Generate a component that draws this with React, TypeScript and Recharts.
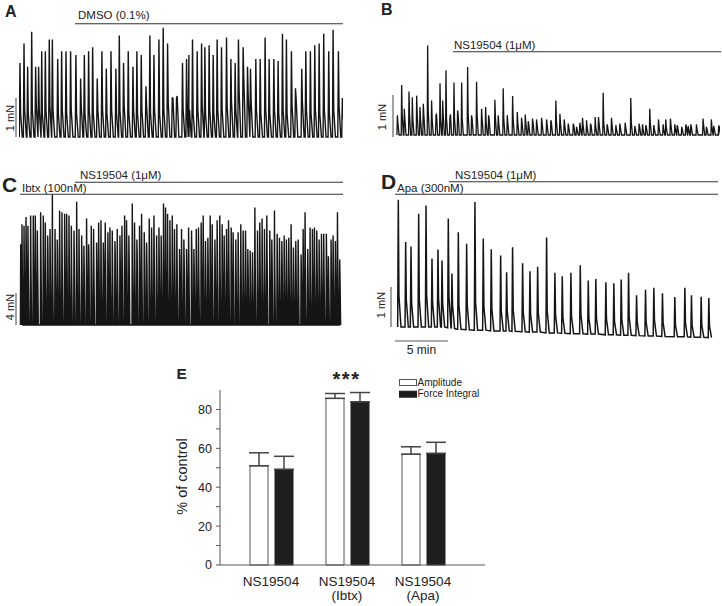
import React from 'react';
import { LineChart, Line, XAxis, YAxis, BarChart, Bar, ErrorBar, Legend } from 'recharts';

const FONT = '"Liberation Sans", Arial, Helvetica, sans-serif';
const INK = '#222';

// A – DMSO (0.1%): spike time (min), peak force (mN), inter-spike band (mN)
const aTimes = [
  0.09, 0.47, 0.81, 1.19, 1.56, 1.84, 2.13, 2.47, 2.84, 3.13,
  3.63, 4.0, 4.41, 4.84, 5.34, 5.78, 6.13, 6.53, 6.91, 7.34,
  7.78, 8.19, 8.63, 9.09, 9.41, 9.81, 10.25, 10.69, 11.06, 11.47,
  11.91, 12.28, 12.66, 13.13, 13.53, 13.94, 14.38, 14.78, 15.34, 15.72,
  15.94, 16.28, 16.72, 17.13, 17.44, 17.84, 18.22, 18.59, 19.0, 19.47,
  19.88, 20.28, 20.59, 21.03, 21.44, 21.72, 22.22, 22.63, 23.09, 23.47,
  23.91, 24.31, 24.72, 25.09, 25.56, 25.94, 26.53, 26.91, 27.34, 27.75,
  28.16, 28.59, 29.06, 29.47, 29.97, 30.34,
];
const aPeaks = [
  1.9, 2.4, 1.8, 2.7, 1.8, 1.8, 2.2, 2.2, 2.5, 2.5,
  2.0, 2.2, 2.2, 2.2, 2.1, 1.5, 2.1, 2.2, 2.3, 1.5,
  2.2, 1.75, 2.2, 1.75, 2.6, 1.9, 2.2, 1.8, 2.2, 2.1,
  1.3, 2.6, 2.1, 2.5, 2.8, 2.4, 1.0, 1.0, 1.9, 2.0,
  2.1, 2.5, 2.2, 2.4, 2.3, 2.35, 2.1, 2.5, 2.3, 2.55,
  2.0, 1.9, 2.5, 2.3, 1.8, 1.75, 2.0, 2.0, 2.55, 2.0,
  2.0, 1.95, 2.65, 2.5, 2.2, 1.25, 1.75, 2.2, 2.2, 2.35,
  2.4, 2.65, 2.2, 2.75, 2.2, 1.0,
];
const aBand = [
  0.6, 0.7, 0.6, 0.7, 0.8, 0.7, 0.6, 0.7, 0.8, 0.7,
  0.6, 0.7, 0.6, 0.7, 0.6, 0.8, 0.6, 0.7, 0.6, 0.7,
  0.7, 0.6, 0.7, 0.6, 0.7, 0.8, 0.6, 0.7, 0.6, 0.7,
  0.8, 0.6, 0.7, 0.6, 0.7, 0.9, 1.0, 1.05, 0.7, 0.6,
  0.7, 0.6, 0.7, 0.8, 0.6, 0.7, 0.6, 0.7, 0.7, 0.8,
  0.9, 0.7, 1.2, 1.5, 1.1, 0.9, 0.7, 0.6, 0.7, 0.6,
  0.7, 0.6, 0.7, 0.6, 0.8, 1.0, 0.9, 0.7, 0.6, 0.7,
  0.6, 0.7, 0.6, 0.7, 0.8, 0.7,
];

// B – NS19504 (1 µM)
const bTimes = [
  0.13, 0.53, 0.78, 1.22, 1.53, 1.94, 2.25, 2.56, 2.97, 3.34,
  3.75, 4.13, 4.38, 4.69, 5.06, 5.44, 5.78, 6.16, 6.72, 7.09,
  7.56, 8.03, 8.41, 8.69, 9.28, 9.59, 10.06, 10.44, 10.94, 11.38,
  11.78, 12.13, 12.41, 12.81, 13.19, 13.66, 14.13, 14.53, 15.0, 15.38,
  15.78, 16.16, 16.63, 16.94, 17.25, 17.5, 17.88, 18.25, 18.69, 19.0,
  19.44, 19.81, 20.22, 20.63, 21.0, 21.5, 22.03, 22.41, 22.81, 23.13,
  23.44, 23.81, 24.19, 24.63, 25.06, 25.31, 25.75, 26.16, 26.38, 26.81,
  27.19, 27.41, 27.66, 28.19, 28.81, 29.13, 29.59, 29.81, 30.28,
];
const bPeaks = [
  0.48, 1.22, 0.64, 1.06, 0.92, 0.96, 0.68, 0.76, 2.18, 0.84,
  0.48, 1.26, 0.84, 1.58, 0.44, 1.28, 0.6, 1.28, 1.66, 0.48,
  1.3, 0.64, 0.68, 0.48, 0.86, 0.48, 1.14, 0.48, 0.95, 0.56,
  0.42, 0.5, 0.34, 0.4, 0.38, 0.42, 0.38, 0.36, 0.84, 0.52,
  0.38, 0.28, 0.26, 0.2, 0.3, 0.42, 0.36, 0.26, 0.44, 0.44,
  1.03, 0.26, 0.42, 0.24, 0.28, 0.3, 0.9, 0.22, 0.28, 0.26,
  0.24, 0.64, 0.24, 0.38, 0.26, 0.38, 0.4, 0.26, 0.24, 0.2,
  0.26, 0.22, 0.26, 0.26, 0.4, 0.2, 0.38, 0.22, 0.23,
];
const bBand = [
  0.3, 0.5, 0.4, 0.5, 0.4, 0.5, 0.4, 0.5, 0.6, 0.4,
  0.5, 0.4, 0.5, 0.4, 0.5, 0.4, 0.5, 0.4, 0.5, 0.4,
  0.5, 0.4, 0.3, 0.4, 0.4, 0.3, 0.4, 0.3, 0.4, 0.3,
  0.3, 0.3, 0.25, 0.3, 0.25, 0.3, 0.25, 0.3, 0.35, 0.3,
  0.25, 0.2, 0.25, 0.15, 0.2, 0.25, 0.2, 0.25, 0.2, 0.3,
  0.3, 0.2, 0.25, 0.15, 0.2, 0.2, 0.3, 0.15, 0.2, 0.15,
  0.2, 0.3, 0.15, 0.2, 0.15, 0.2, 0.25, 0.15, 0.2, 0.15,
  0.2, 0.15, 0.2, 0.15, 0.25, 0.15, 0.2, 0.15, 0.2,
];

// C – Ibtx (100 nM) then NS19504 (1 µM)
const cTimes = [
  0.16, 0.28, 0.47, 0.66, 0.84, 1.09, 1.34, 1.53, 1.72, 2.03,
  2.28, 2.47, 2.69, 2.91, 3.13, 3.38, 3.59, 3.81, 4.03, 4.28,
  4.47, 4.69, 4.91, 5.16, 5.41, 5.63, 5.88, 6.09, 6.34, 6.53,
  6.78, 7.0, 7.28, 7.47, 7.69, 7.91, 8.09, 8.34, 8.53, 8.75,
  9.0, 9.22, 9.47, 9.66, 9.91, 10.09, 10.31, 10.63, 10.84, 11.06,
  11.31, 11.5, 11.75, 11.97, 12.22, 12.44, 12.66, 12.91, 13.13, 13.34,
  13.56, 13.75, 13.94, 14.16, 14.38, 14.59, 14.81, 15.06, 15.25, 15.47,
  15.72, 15.91, 16.19, 16.41, 16.63, 16.84, 17.09, 17.28, 17.5, 17.72,
  17.94, 18.13, 18.38, 18.59, 18.84, 19.06, 19.25, 19.47, 19.66, 19.91,
  20.09, 20.34, 20.56, 20.81, 21.03, 21.25, 21.47, 21.69, 21.91, 22.13,
  22.38, 22.59, 22.81, 23.03, 23.25, 23.53, 23.72, 23.97, 24.22, 24.44,
  24.66, 24.88, 25.09, 25.31, 25.53, 25.75, 25.97, 26.19, 26.47, 26.66,
  26.84, 27.09, 27.31, 27.53, 27.72, 27.94, 28.16, 28.38, 28.59, 28.84,
  29.03, 29.28, 29.47, 29.69, 29.88, 30.09,
];
const cPeaks = [
  10.1, 12.6, 12.4, 13.5, 12.4, 13.7, 13.7, 13.7, 11.8, 14.1,
  13.7, 12.8, 11.2, 12.0, 16.3, 12.0, 10.7, 14.3, 14.1, 13.9,
  13.9, 13.7, 12.4, 11.8, 15.4, 12.0, 11.2, 9.9, 13.3, 10.1,
  12.4, 12.0, 10.3, 12.8, 13.1, 10.3, 12.8, 11.6, 12.2, 11.8,
  10.5, 12.0, 11.2, 12.4, 13.7, 13.1, 11.2, 15.2, 12.8, 10.7,
  12.4, 13.9, 11.6, 10.3, 13.3, 12.2, 13.7, 11.2, 12.2, 11.2,
  15.2, 14.7, 13.9, 13.1, 13.7, 12.0, 12.6, 9.5, 12.0, 10.7,
  9.5, 12.2, 11.8, 9.5, 12.0, 12.2, 12.8, 13.7, 10.5, 10.9,
  13.7, 12.6, 10.7, 13.1, 13.7, 12.6, 11.2, 12.0, 13.1, 12.2,
  11.6, 10.7, 11.6, 12.6, 11.8, 11.8, 9.5, 9.3, 9.1, 14.7,
  11.8, 12.8, 13.3, 12.0, 13.7, 11.8, 10.7, 14.3, 11.4, 10.9,
  10.5, 11.2, 10.7, 10.9, 12.6, 9.7, 10.5, 10.7, 8.8, 12.0,
  14.1, 9.5, 12.2, 12.0, 12.2, 11.8, 10.7, 11.4, 11.4, 11.4,
  8.6, 10.7, 11.2, 10.5, 14.1, 8.2,
];
const cBand = [
  9, 7, 8, 9, 7, 8, 9, 7, 8, 9,
  8, 7, 9, 8, 7, 8, 9, 8, 7, 8,
  9, 8, 7, 8, 9, 7, 8, 7, 8, 9,
  8, 7, 8, 9, 7, 8, 9, 8, 7, 8,
  9, 7, 8, 8, 7, 9, 8, 7, 8, 9,
  8, 7, 9, 8, 7, 8, 9, 7, 8, 8,
  9, 8, 7, 8, 9, 8, 7, 8, 7, 8,
  7, 8, 9, 7, 8, 7, 8, 9, 7, 8,
  8, 7, 8, 9, 7, 8, 7, 8, 9, 7,
  8, 7, 8, 7, 8, 9, 7, 7, 6, 8,
  7, 8, 7, 8, 9, 7, 8, 7, 8, 7,
  8, 7, 8, 7, 8, 7, 7, 8, 6, 7,
  8, 7, 6, 8, 7, 8, 7, 8, 7, 8,
  6, 7, 8, 7, 8, 6,
];

// D – Apa (300 nM) then NS19504 (1 µM); baseline drifts downwards
const dTimes = [
  0.31, 1.0, 1.5, 2.22, 2.91, 3.47, 4.03, 4.41, 5.0, 5.34,
  5.94, 6.72, 7.5, 8.28, 9.03, 9.91, 10.47, 11.03, 11.97, 12.66,
  13.38, 14.22, 15.0, 15.69, 16.5, 17.38, 18.13, 18.84, 19.78, 20.53,
  21.22, 21.91, 22.66, 23.5, 24.28, 25.09, 26.25, 27.19, 27.81, 28.72,
  29.44,
];
const dPeaks = [
  3.24, 2.16, 2.05, 2.88, 3.09, 1.74, 1.97, 1.69, 2.78, 1.4,
  2.47, 2.19, 3.26, 2.33, 2.08, 1.92, 1.49, 2.14, 1.74, 1.55,
  1.66, 2.43, 1.53, 1.45, 1.55, 1.74, 1.36, 1.4, 1.34, 1.31,
  1.42, 1.59, 1.03, 1.18, 1.23, 1.1, 1.01, 1.25, 1.07, 1.03,
  1.01,
];
const dBand = [
  0.8, 0.7, 0.6, 0.7, 0.8, 0.6, 0.7, 0.6, 0.8, 0.6,
  0.6, 0.6, 0.7, 0.6, 0.55, 0.5, 0.5, 0.55, 0.5, 0.45,
  0.5, 0.55, 0.45, 0.4, 0.45, 0.5, 0.4, 0.4, 0.4, 0.35,
  0.4, 0.45, 0.35, 0.35, 0.4, 0.35, 0.3, 0.35, 0.3, 0.3,
  0.3,
];
const dBase = [
  0, 0, 0, 0, 0, 0, 0, 0, -0.02, -0.04,
  -0.06, -0.07, -0.08, -0.08, -0.1, -0.1, -0.1, -0.11, -0.12, -0.13,
  -0.13, -0.15, -0.15, -0.16, -0.17, -0.17, -0.18, -0.18, -0.2, -0.2,
  -0.21, -0.21, -0.22, -0.23, -0.23, -0.24, -0.25, -0.25, -0.26, -0.26,
  -0.27,
];

// E – summary, % of control (mean, +SEM)
const conditions = ['NS19504', 'NS19504\n(Ibtx)', 'NS19504\n(Apa)'];
const amplitude = [51.0, 85.7, 57.0];
const amplitudeSem = [6.7, 2.5, 3.8];
const forceIntegral = [49.2, 83.9, 57.4];
const forceIntegralSem = [6.7, 4.8, 5.7];
const yTicks = [0, 10, 20, 30, 40, 50, 60, 70, 80];

type Shape = { rise: number; fall: number; tail: number };
type Box = { left: number; top: number; width: number; height: number; baseline: number; ppu: number; xMax: number; stroke: number };

// each contraction: baseline -> peak -> band level -> baseline
const buildTrace = (times: number[], peaks: number[], band: number[], shape: Shape, base?: number[]) => {
  const pts: { t: number; f: number }[] = [];
  times.forEach((t, i) => {
    const b = base ? base[i] : 0;
    pts.push({ t: t - shape.rise, f: b });
    pts.push({ t, f: b + peaks[i] });
    pts.push({ t: t + shape.fall, f: b + band[i] });
    pts.push({ t: t + shape.tail, f: b });
  });
  return pts.sort((p, q) => p.t - q.t);
};

const traceA = buildTrace(aTimes, aPeaks, aBand, { rise: 0.06, fall: 0.06, tail: 0.22 });
const traceB = buildTrace(bTimes, bPeaks, bBand, { rise: 0.04, fall: 0.05, tail: 0.16 });
const traceC = buildTrace(cTimes, cPeaks, cBand, { rise: 0.03, fall: 0.03, tail: 0.09 });
const traceD = buildTrace(dTimes, dPeaks, dBand, { rise: 0.06, fall: 0.06, tail: 0.25 }, dBase);

const boxA: Box = { left: 19, top: 25, width: 324, height: 120, baseline: 137, ppu: 39, xMax: 30.4, stroke: 1.4 };
const boxB: Box = { left: 396, top: 40, width: 324, height: 105, baseline: 135, ppu: 41, xMax: 30.4, stroke: 1.3 };
const boxC: Box = { left: 19, top: 192, width: 324, height: 140, baseline: 325, ppu: 8, xMax: 30.4, stroke: 1.4 };
const boxD: Box = { left: 395, top: 192, width: 323, height: 152, baseline: 327, ppu: 39.3, xMax: 30.3, stroke: 1.5 };

const Trace = ({ data, box }: { data: { t: number; f: number }[]; box: Box }) => {
  const yMin = -(box.top + box.height - box.baseline) / box.ppu;
  const yMax = (box.baseline - box.top) / box.ppu;
  return (
    <div style={{ position: 'absolute', left: box.left, top: box.top }}>
      <LineChart width={box.width} height={box.height} data={data} margin={{ top: 0, right: 0, bottom: 0, left: 0 }}>
        <XAxis dataKey="t" type="number" domain={[0, box.xMax]} hide allowDataOverflow />
        <YAxis type="number" domain={[yMin, yMax]} hide allowDataOverflow />
        <Line
          dataKey="f"
          type="linear"
          stroke="#151515"
          strokeWidth={box.stroke}
          strokeLinejoin="miter"
          dot={false}
          isAnimationActive={false}
        />
      </LineChart>
    </div>
  );
};

const barData = conditions.map((name, i) => ({
  name,
  amp: amplitude[i],
  ampErr: [0, amplitudeSem[i]],
  force: forceIntegral[i],
  forceErr: [0, forceIntegralSem[i]],
}));

const ConditionTick = (props: any) => {
  const { x, y, payload } = props;
  const lines = String(payload.value).split('\n');
  return (
    <text x={x} y={y} textAnchor="middle" fontSize={13.5} fill={INK} fontFamily={FONT}>
      {lines.map((l, i) => (
        <tspan key={i} x={x} dy={i === 0 ? 21 : 13.5}>{l}</tspan>
      ))}
    </text>
  );
};

const renderLegend = (props: any) => {
  const items = props.payload || [];
  return (
    <svg width={100} height={26} style={{ display: 'block' }}>
      {items.map((e: any, i: number) => (
        <g key={i}>
          <rect x={1.5} y={3.5 + i * 11.7} width={17} height={6} fill={e.color} stroke={e.color === '#ffffff' ? '#555' : e.color} />
          <text x={19.5} y={9.5 + i * 11.7} fontSize={10} fill={INK} fontFamily={FONT}>{e.value}</text>
        </g>
      ))}
    </svg>
  );
};

const txt = { fontFamily: FONT, fill: INK } as const;

const Overlay = () => (
  <svg width={722} height={606} style={{ position: 'absolute', left: 0, top: 0, pointerEvents: 'none' }}>
    {/* panel letters */}
    <text x={5} y={16.7} fontSize={16} fontWeight="bold" {...txt}>A</text>
    <text x={381} y={15} fontSize={16} fontWeight="bold" {...txt}>B</text>
    <text x={2} y={191.5} fontSize={21} fontWeight="bold" {...txt}>C</text>
    <text x={381} y={188.5} fontSize={21} fontWeight="bold" {...txt}>D</text>
    <text x={176.5} y={379.3} fontSize={15.5} fontWeight="bold" {...txt}>E</text>

    {/* drug application bars */}
    <g stroke="#333" strokeWidth={1.1}>
      <line x1={75} y1={23.7} x2={343} y2={23.7} />
      <line x1={453} y1={51.7} x2={721} y2={51.7} />
      <line x1={75} y1={182.3} x2={343} y2={182.3} />
      <line x1={20} y1={194.3} x2={343} y2={194.3} />
      <line x1={449} y1={181.7} x2={718} y2={181.7} />
      <line x1={395} y1={194.3} x2={718} y2={194.3} />
    </g>
    <text x={78} y={19.3} fontSize={11.5} {...txt}>DMSO (0.1%)</text>
    <text x={454} y={49} fontSize={11.5} {...txt}>NS19504 (1μM)</text>
    <text x={80} y={179} fontSize={11.5} {...txt}>NS19504 (1μM)</text>
    <text x={22} y={191.5} fontSize={11.5} {...txt}>Ibtx (100nM)</text>
    <text x={455} y={178.7} fontSize={11.5} {...txt}>NS19504 (1μM)</text>
    <text x={397} y={191.5} fontSize={11.5} {...txt}>Apa (300nM)</text>

    {/* scale bars */}
    <g stroke="#555" strokeWidth={1.1}>
      <line x1={16} y1={98} x2={16} y2={137} />
      <line x1={393} y1={95} x2={393} y2={137} />
      <line x1={16} y1={293} x2={16} y2={325} />
      <line x1={391} y1={287} x2={391} y2={327} />
      <line x1={395} y1={341} x2={448} y2={341} />
    </g>
    <text transform="translate(10,118) rotate(-90)" textAnchor="middle" dominantBaseline="central" fontSize={11} {...txt}>1 mN</text>
    <text transform="translate(382,117) rotate(-90)" textAnchor="middle" dominantBaseline="central" fontSize={11} {...txt}>1 mN</text>
    <text transform="translate(10,307) rotate(-90)" textAnchor="middle" dominantBaseline="central" fontSize={11} {...txt}>4 mN</text>
    <text transform="translate(381,305) rotate(-90)" textAnchor="middle" dominantBaseline="central" fontSize={11} {...txt}>1 mN</text>
    <text x={421.5} y={353.5} textAnchor="middle" fontSize={12} {...txt}>5 min</text>

    {/* summary annotations */}
    <text transform="translate(182,476.5) rotate(-90)" textAnchor="middle" dominantBaseline="central" fontSize={14.5} {...txt}>% of control</text>
    <text x={346.5} y={386} textAnchor="middle" fontSize={20} fontWeight="bold" letterSpacing={1.5} {...txt}>***</text>
  </svg>
);

export default function App() {
  return (
    <div style={{ position: 'absolute', left: 0, top: 0, width: 722, height: 606, background: '#fff', overflow: 'hidden' }}>
      <Trace data={traceA} box={boxA} />
      <Trace data={traceB} box={boxB} />
      <Trace data={traceC} box={boxC} />
      <Trace data={traceD} box={boxD} />

      <div style={{ position: 'absolute', left: 170, top: 380 }}>
        <BarChart width={330} height={226} data={barData} margin={{ top: 10, right: 15, bottom: 0, left: 0 }} barSize={18} barGap={7}>
          <XAxis
            dataKey="name"
            height={41}
            stroke="#555"
            tickLine={false}
            tickSize={0}
            tickMargin={0}
            padding={{ left: 13, right: 24 }}
            tick={<ConditionTick />}
            interval={0}
          />
          <YAxis
            width={50}
            domain={[0, 90]}
            ticks={yTicks}
            stroke="#555"
            tickSize={4}
            tickMargin={4}
            tickFormatter={(v: number) => (v % 20 === 0 ? String(v) : '')}
            tick={{ fontSize: 12.5, fill: INK, fontFamily: FONT }}
          />
          <Legend
            layout="vertical"
            align="center"
            verticalAlign="middle"
            wrapperStyle={{ left: 228, top: -4, width: 100, height: 26 }}
            content={renderLegend}
          />
          <Bar dataKey="amp" name="Amplitude" fill="#ffffff" stroke="#555" strokeWidth={1} isAnimationActive={false}>
            <ErrorBar dataKey="ampErr" width={10} stroke="#444" strokeWidth={1.5} direction="y" />
          </Bar>
          <Bar dataKey="force" name="Force Integral" fill="#1e1e1e" stroke="#1e1e1e" strokeWidth={1} isAnimationActive={false}>
            <ErrorBar dataKey="forceErr" width={10} stroke="#444" strokeWidth={1.5} direction="y" />
          </Bar>
        </BarChart>
      </div>

      <Overlay />
    </div>
  );
}
